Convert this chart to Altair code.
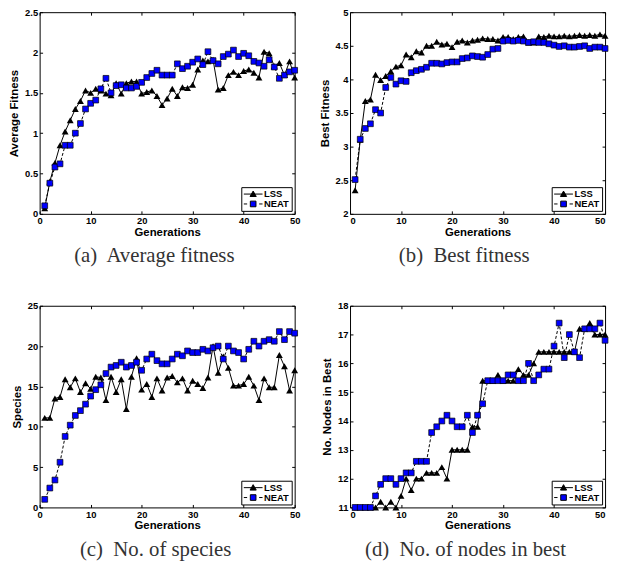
import altair as alt
import pandas as pd

gens = list(range(1, 51))

avg_lss = [0.07, 0.40, 0.63, 0.85, 1.02, 1.16, 1.30, 1.40, 1.53, 1.50,
           1.55, 1.53, 1.49, 1.47, 1.62, 1.49, 1.62, 1.64, 1.64, 1.49,
           1.51, 1.53, 1.46, 1.35, 1.43, 1.55, 1.46, 1.57, 1.56, 1.60,
           1.79, 1.90, 1.89, 1.91, 1.54, 1.56, 1.72, 1.76, 1.72, 1.77,
           1.79, 1.75, 1.69, 2.01, 1.99, 1.83, 1.87, 1.72, 1.89, 1.69]
avg_neat = [0.10, 0.38, 0.58, 0.62, 0.85, 0.85, 1.00, 1.12, 1.30, 1.37,
            1.41, 1.55, 1.68, 1.50, 1.59, 1.60, 1.56, 1.56, 1.58, 1.63,
            1.69, 1.74, 1.78, 1.72, 1.72, 1.72, 1.86, 1.80, 1.83, 1.88,
            1.92, 1.85, 2.01, 1.90, 1.86, 1.95, 1.98, 2.03, 1.95, 1.99,
            1.96, 1.89, 1.87, 1.83, 1.91, 1.82, 1.68, 1.72, 1.76, 1.78]

best_lss = [2.35, 3.10, 3.68, 3.70, 4.07, 3.99, 4.05, 4.12, 4.19, 4.21,
            4.37, 4.33, 4.42, 4.40, 4.50, 4.50, 4.56, 4.52, 4.53, 4.48,
            4.56, 4.58, 4.55, 4.58, 4.59, 4.61, 4.60, 4.60, 4.58, 4.63,
            4.63, 4.60, 4.63, 4.64, 4.55, 4.55, 4.64, 4.63, 4.65, 4.64,
            4.64, 4.65, 4.64, 4.65, 4.66, 4.65, 4.66, 4.65, 4.67, 4.65]
best_neat = [2.51, 3.11, 3.27, 3.34, 3.55, 3.50, 3.88, 4.03, 3.93, 3.98,
             3.97, 4.10, 4.13, 4.15, 4.18, 4.24, 4.24, 4.23, 4.25, 4.26,
             4.26, 4.31, 4.32, 4.35, 4.34, 4.33, 4.37, 4.45, 4.46, 4.57,
             4.58, 4.57, 4.58, 4.57, 4.55, 4.56, 4.55, 4.55, 4.53, 4.51,
             4.49, 4.50, 4.48, 4.48, 4.49, 4.50, 4.46, 4.48, 4.48, 4.46]

spec_lss = [11.1, 11.1, 13.5, 13.7, 15.9, 14.9, 16.0, 14.3, 15.4, 14.7,
            16.2, 16.1, 13.3, 16.2, 14.3, 15.9, 12.2, 16.2, 18.5, 14.6,
            15.3, 13.7, 16.0, 14.5, 16.1, 16.3, 15.5, 16.0, 14.5, 15.7,
            15.3, 14.8, 16.1, 20.0, 16.7, 18.7, 17.3, 15.1, 15.1, 15.3,
            16.2, 15.1, 13.3, 16.0, 14.9, 14.9, 18.9, 17.5, 14.5, 17.0]
spec_neat = [1.0, 2.4, 3.4, 5.6, 8.8, 10.2, 11.4, 12.0, 12.8, 13.8,
             14.6, 15.2, 16.6, 17.4, 17.6, 18.0, 17.4, 17.6, 18.0, 17.0,
             18.4, 19.0, 18.2, 17.8, 17.8, 18.4, 19.0, 18.8, 19.4, 19.2,
             19.2, 19.6, 19.4, 19.8, 20.0, 18.4, 20.0, 19.4, 19.2, 18.4,
             19.6, 20.6, 20.0, 20.6, 20.8, 20.6, 21.8, 20.8, 21.8, 21.6]

nodes_lss = [11.0, 11.0, 11.0, 11.0, 11.0, 11.2, 11.0, 11.2, 11.0, 11.4,
             12.0, 11.6, 12.0, 12.0, 12.2, 12.2, 12.2, 12.4, 12.0, 13.0,
             13.0, 13.0, 13.0, 13.8, 13.8, 15.4, 15.4, 15.4, 15.6, 15.4,
             15.4, 15.4, 15.8, 15.6, 15.6, 16.0, 16.4, 16.4, 16.4, 16.4,
             16.4, 16.4, 16.4, 16.4, 17.2, 17.2, 17.4, 17.0, 17.0, 17.0]
nodes_neat = [11.0, 11.0, 11.0, 11.0, 11.4, 11.8, 12.0, 12.0, 11.8, 12.0,
              12.2, 12.2, 12.6, 12.6, 12.6, 13.6, 13.8, 14.0, 14.2, 14.0,
              13.8, 13.8, 14.2, 13.6, 14.2, 14.6, 15.4, 15.4, 15.4, 15.4,
              15.6, 15.6, 15.4, 15.4, 16.0, 15.4, 15.6, 15.8, 15.8, 16.6,
              17.4, 16.2, 17.0, 16.4, 16.2, 17.2, 17.2, 17.2, 17.4, 16.8]

series_names = ["LSS", "NEAT"]
x_ticks = [0, 10, 20, 30, 40, 50]

SANS = "Liberation Sans"
SERIF = "Liberation Serif"
BLUE = "#0000ff"

LSS_PATH = "M-1,0L1,0M0,-0.32L0.33,0.26L-0.33,0.26Z"
NEAT_PATH = "M-1,0L-0.64,0M0.64,0L1,0M-0.3,-0.3L0.3,-0.3L0.3,0.3L-0.3,0.3Z"

W, H = 258, 204
TICK = 3


def panel(lss, neat, ydomain, yvalues, ytitle, caption, flush_x=False):
    df = pd.DataFrame({
        "gen": gens + gens,
        "value": lss + neat,
        "series": ["LSS"] * len(lss) + ["NEAT"] * len(neat),
    })
    xs = alt.Scale(domain=[0, 50], nice=False)
    ys = alt.Scale(domain=ydomain, nice=False, zero=False)
    # main axes (labels + titles), ticks pointing inward
    x_main = alt.X("gen:Q", scale=xs,
                   axis=alt.Axis(values=x_ticks, title="Generations",
                                 labelFlush=flush_x, offset=-TICK,
                                 ticks=True, tickSize=TICK))
    y_main = alt.Y("value:Q", scale=ys,
                   axis=alt.Axis(values=yvalues, title=ytitle, format="~g",
                                 offset=-TICK, ticks=True, tickSize=TICK))
    # opposite-side axes: inward ticks only
    x_top = alt.X("gen:Q", scale=xs,
                  axis=alt.Axis(orient="top", values=x_ticks, title=None,
                                labels=False, offset=-TICK, ticks=True,
                                tickSize=TICK))
    y_right = alt.Y("value:Q", scale=ys,
                    axis=alt.Axis(orient="right", values=yvalues, title=None,
                                  labels=False, offset=-TICK, ticks=True,
                                  tickSize=TICK))
    x_none = alt.X("gen:Q", scale=xs, axis=None)
    y_none = alt.Y("value:Q", scale=ys, axis=None)

    base = alt.Chart(df)
    lss_f = "datum.series == 'LSS'"
    neat_f = "datum.series == 'NEAT'"
    lss_line = base.transform_filter(lss_f).mark_line(
        color="black", strokeWidth=1).encode(x=x_main, y=y_main)
    lss_pts = base.transform_filter(lss_f).mark_point(
        shape="triangle-up", filled=True, fill="black", size=48, opacity=1
    ).encode(x=x_none, y=y_none)
    neat_line = base.transform_filter(neat_f).mark_line(
        color="black", strokeWidth=1, strokeDash=[3, 2]).encode(x=x_none, y=y_none)
    neat_pts = base.transform_filter(neat_f).mark_point(
        shape="square", filled=True, fill=BLUE, stroke="black", strokeWidth=0.7,
        size=34, opacity=1).encode(x=x_none, y=y_none)
    leg = alt.Legend(
        title=None, orient="bottom-right", offset=3, padding=2,
        strokeColor="black", fillColor="white", cornerRadius=0,
        symbolSize=361, symbolStrokeWidth=1,
        symbolOpacity=1, labelFont=SANS, labelFontSize=9.5,
        labelFontWeight="bold", labelColor="black", labelOffset=1,
        clipHeight=10, rowPadding=0)
    legend_layer = base.mark_point(filled=True, opacity=0).encode(
        x=x_top, y=y_right,
        shape=alt.Shape("series:N", scale=alt.Scale(domain=series_names,
                        range=[LSS_PATH, NEAT_PATH]), legend=leg),
        fill=alt.Fill("series:N", scale=alt.Scale(domain=series_names,
                      range=["black", BLUE]), legend=leg),
        stroke=alt.Stroke("series:N", scale=alt.Scale(domain=series_names,
                          range=["black", "black"]), legend=leg),
    )
    return alt.layer(
        lss_line, lss_pts, neat_line, neat_pts, legend_layer
    ).resolve_axis(
        x="independent", y="independent"
    ).properties(
        width=W, height=H,
        title=alt.TitleParams(caption, orient="bottom", anchor="middle",
                              frame="bounds", font=SERIF, fontSize=21,
                              fontWeight="normal", color="#333333", offset=8),
    )


pa = panel(avg_lss, avg_neat, [0, 2.5], [0, 0.5, 1, 1.5, 2, 2.5],
           "Average Fitness", "(a)\u00a0 Average fitness")
pb = panel(best_lss, best_neat, [2, 5], [2, 2.5, 3, 3.5, 4, 4.5, 5],
           "Best Fitness", "(b)\u00a0 Best fitness", flush_x=True)
pc = panel(spec_lss, spec_neat, [0, 25], [0, 5, 10, 15, 20, 25],
           "Species", "(c)\u00a0 No. of species")
pd_ = panel(nodes_lss, nodes_neat, [11, 18], [11, 12, 13, 14, 15, 16, 17, 18],
            "No. Nodes in Best", "(d)\u00a0 No. of nodes in best", flush_x=True)

chart = alt.concat(
    pa, pb, pc, pd_, columns=2, spacing={"row": 93, "column": 56}, bounds="flush"
).resolve_scale(
    x="independent", y="independent", shape="independent", fill="independent",
    stroke="independent"
).resolve_legend(
    shape="independent", fill="independent", stroke="independent"
).properties(
    padding={"left": 0, "top": -5, "right": 0, "bottom": 0}
).configure_view(
    stroke="black", strokeWidth=1
).configure_axis(
    domain=False, grid=False, labelFlush=False, tickColor="black", tickWidth=1,
    labelFont=SANS, labelFontSize=9.5, labelFontWeight="bold", labelColor="black",
    labelPadding=2, titleFont=SANS, titleFontSize=11.5, titleFontWeight="bold",
    titleColor="black", titlePadding=1
).configure_axisY(
    titlePadding=5
)

chart.save("out.html", embed_options={"renderer": "svg", "actions": False})
